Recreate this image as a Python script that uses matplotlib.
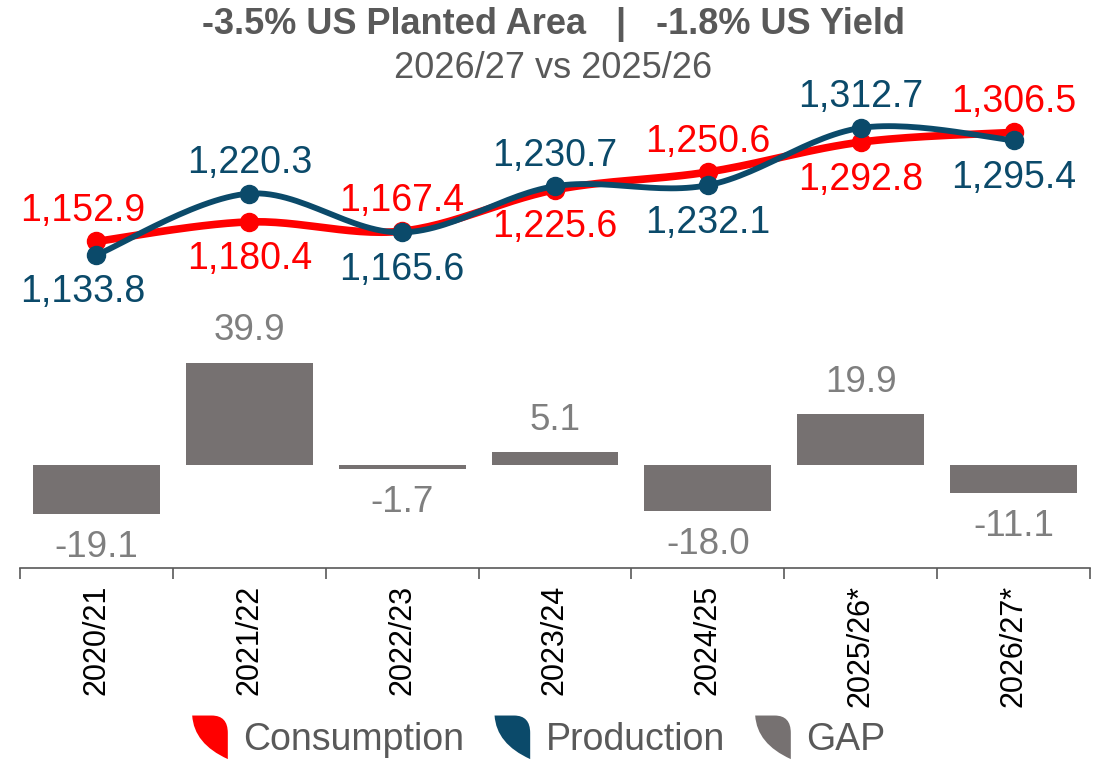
import numpy as np
import matplotlib.pyplot as plt
from matplotlib.path import Path
from matplotlib.patches import PathPatch, Patch
from matplotlib.legend_handler import HandlerPatch

plt.rcParams['font.family'] = ['Liberation Sans', 'DejaVu Sans']

# data
seasons = ["2020/21", "2021/22", "2022/23", "2023/24", "2024/25", "2025/26*", "2026/27*"]
consumption = [1152.9, 1180.4, 1167.4, 1225.6, 1250.6, 1292.8, 1306.5]
production = [1133.8, 1220.3, 1165.6, 1230.7, 1232.1, 1312.7, 1295.4]
gap = [-19.1, 39.9, -1.7, 5.1, -18.0, 19.9, -11.1]
# label above (+1) or below (-1) the point
cons_side = [1, -1, 1, -1, 1, -1, 1]
prod_side = [-1, 1, -1, 1, -1, 1, -1]

RED = "#FF0000"
BLUE = "#0B4A6A"
GREY = "#767171"
TXT = "#595959"


def smooth(xs, ys, n=30):
    # excel-like smoothed line (catmull-rom as cubic bezier)
    xs = np.asarray(xs, float)
    ys = np.asarray(ys, float)
    px, py = [], []
    for i in range(len(xs) - 1):
        i0, i3 = max(i - 1, 0), min(i + 2, len(xs) - 1)
        p0 = np.array([xs[i], ys[i]])
        p3 = np.array([xs[i + 1], ys[i + 1]])
        c1 = p0 + (p3 - np.array([xs[i0], ys[i0]])) / 6
        c2 = p3 - (np.array([xs[i3], ys[i3]]) - p0) / 6
        t = np.linspace(0, 1, n)[:, None]
        pts = (1 - t) ** 3 * p0 + 3 * (1 - t) ** 2 * t * c1 + 3 * (1 - t) * t ** 2 * c2 + t ** 3 * p3
        px.extend(pts[:, 0])
        py.extend(pts[:, 1])
    return px, py


fig = plt.figure(figsize=(11.07, 7.60), dpi=100)
W, H = 1107, 760
left, width = 20 / W, 1070 / W
x = np.arange(len(seasons))

# lines
ax1 = fig.add_axes([left, 1 - 300 / H, width, 200 / H])
ax1.set_xlim(-0.5, len(seasons) - 0.5)
ax1.set_ylim(1070.4, 1352.1)
ax1.axis("off")
sx, sy = smooth(x, consumption)
ax1.plot(sx, sy, color=RED, lw=5.5, solid_capstyle="round", zorder=2)
ax1.plot(x, consumption, "o", color=RED, ms=13, zorder=2)
sx, sy = smooth(x, production)
ax1.plot(sx, sy, color=BLUE, lw=4.2, solid_capstyle="round", zorder=3)
ax1.plot(x, production, "o", color=BLUE, ms=13, zorder=3)
for i, (v, s) in enumerate(zip(consumption, cons_side)):
    ax1.annotate(f"{v:,.1f}", (x[i], v), xytext=(-10 if i == 0 else 0, 22 if s > 0 else -27),
                 textcoords="offset points", ha="center", va="center",
                 fontsize=27, color=RED, annotation_clip=False)
for i, (v, s) in enumerate(zip(production, prod_side)):
    ax1.annotate(f"{v:,.1f}", (x[i], v), xytext=(-10 if i == 0 else 0, 22 if s > 0 else -27),
                 textcoords="offset points", ha="center", va="center",
                 fontsize=27, color=BLUE, annotation_clip=False)

# gap bars
ax2 = fig.add_axes([left, 1 - 568 / H, width, 238 / H])
ax2.set_xlim(-0.5, len(seasons) - 0.5)
ax2.set_ylim(-40.2, 52.7)
ax2.bar(x, gap, width=0.83, color=GREY)
for xi, v in zip(x, gap):
    ax2.annotate(f"{v:.1f}", (xi, v), xytext=(0, 23 if v > 0 else -24),
                 textcoords="offset points", ha="center", va="center",
                 fontsize=26.5, color="#7F7F7F", annotation_clip=False)
for sp in ["top", "right", "left"]:
    ax2.spines[sp].set_visible(False)
ax2.spines["bottom"].set_color("#595959")
ax2.spines["bottom"].set_linewidth(1.2)
ax2.set_yticks([])
ax2.set_xticks(x)
ax2.set_xticklabels(seasons, rotation=90, fontsize=22, color="black")
ax2.set_xticks(np.arange(len(seasons) + 1) - 0.5, minor=True)
ax2.tick_params(axis="x", which="major", length=0, pad=12)
ax2.tick_params(axis="x", which="minor", length=8, width=1.2, color="#595959")

# titles
fig.text(0.5, 1 - 24 / H, "-3.5% US Planted Area   |   -1.8% US Yield", ha="center", va="center",
         fontsize=26, fontweight="bold", color=TXT)
fig.text(0.5, 1 - 68 / H, "2026/27 vs 2025/26", ha="center", va="center",
         fontsize=26, color=TXT)


class LeafHandler(HandlerPatch):
    def create_artists(self, legend, orig_handle, xdescent, ydescent, width, height, fontsize, trans):
        x0, y0 = -xdescent, -ydescent - height * 0.2
        w, h = width, height * 1.4
        verts = [(x0, y0 + h), (x0 + 0.55 * w, y0 + h), (x0 + w, y0 + h), (x0 + w, y0 + 0.6 * h),
                 (x0 + w, y0), (x0 + 0.05 * w, y0 + 0.35 * h), (x0, y0 + h), (x0, y0 + h)]
        codes = [Path.MOVETO, Path.LINETO, Path.CURVE3, Path.CURVE3,
                 Path.LINETO, Path.CURVE3, Path.CURVE3, Path.CLOSEPOLY]
        p = PathPatch(Path(verts, codes), facecolor=orig_handle.get_facecolor(), edgecolor="none")
        p.set_transform(trans)
        return [p]


handles = [Patch(color=RED, label="Consumption"), Patch(color=BLUE, label="Production"),
           Patch(color=GREY, label="GAP")]
leg = fig.legend(handles=handles, loc="center", bbox_to_anchor=(539 / W, 1 - 740 / H), ncol=3,
                 frameon=False, fontsize=27, handlelength=0.95, handleheight=0.9,
                 handletextpad=0.42, columnspacing=0.8,
                 handler_map={Patch: LeafHandler()})
for t in leg.get_texts():
    t.set_color(TXT)

fig.savefig("out.png", dpi=100)
